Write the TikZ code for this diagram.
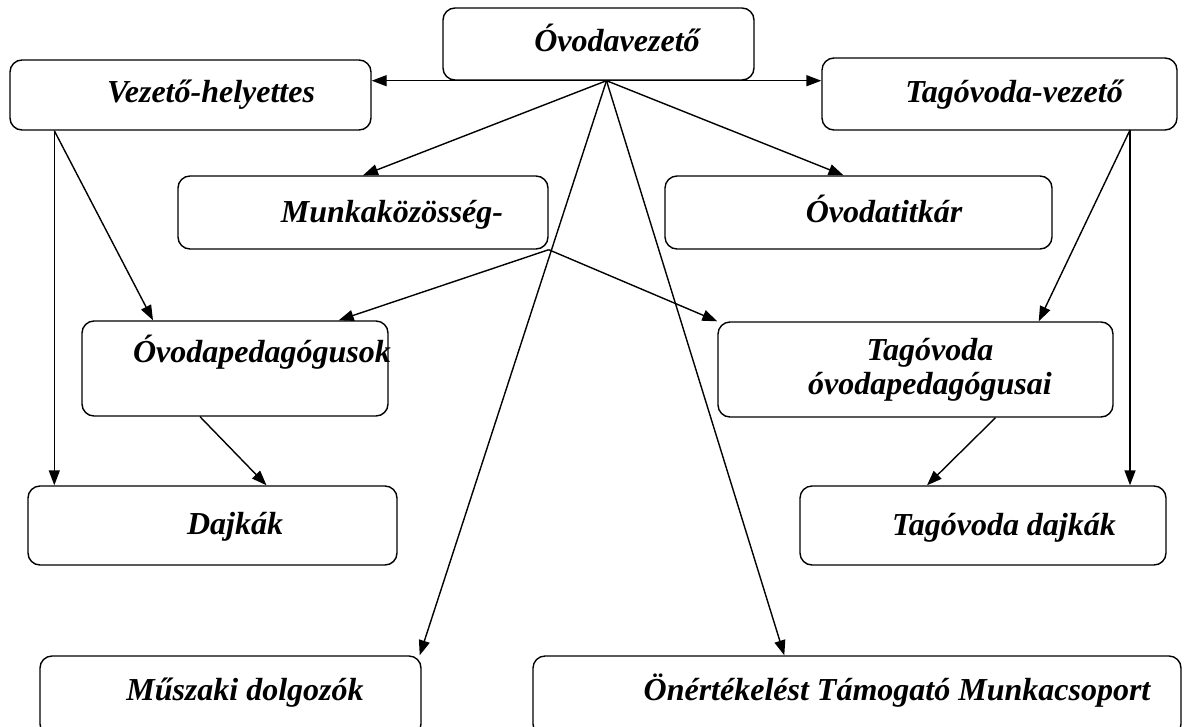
\documentclass[tikz,border=0pt]{standalone}
\usepackage{fontspec}
\setmainfont{Liberation Serif}
\usetikzlibrary{arrows.meta}
\tikzset{
	org box/.style={
		draw,
		rounded corners=12pt,
		line width=1.4pt,
		inner sep=0pt
	},
	org text/.style={
		anchor=base,
		inner sep=0pt,
		font=\fontsize{32}{34}\selectfont\bfseries\itshape
	},
}

\begin{document}
\begin{tikzpicture}[x=1pt, y=-1pt, line width=1.4pt, >={Triangle[length=15pt,width=11pt]}]

\useasboundingbox (0,0) rectangle (1188,726);

% boxes
\foreach \n/\x/\y/\w/\h in {ov/598.5/44/311/72, vh/190.5/95/361/70, tv/999.5/94/355/72,
	mk/363/212.5/370/73, tit/858.5/212.5/387/73,
	op/235/368.5/306/95, tov/915.5/369.5/395/95,
	dj/212.5/525.5/369/79, tdj/983/525.5/366/79,
	msz/230.5/696/381/80, ont/857/696/648/80}
	\node [org box, minimum width=\w pt, minimum height=\h pt] (\n) at (\x,\y) {};

% texts
\foreach \n/\x/\y/\t in {ov/617/51/Óvodavezető, vh/211/102/Vezető-helyettes,
	tv/1014/102/Tagóvoda-vezető, mk/392/222/Munkaközösség-, tit/884/222/Óvodatitkár,
	op/262/362/Óvodapedagógusok, tdj/1004/535/Tagóvoda dajkák, dj/235/534/Dajkák,
	msz/245/700/Műszaki dolgozók, ont/897/700/Önértékelést Támogató Munkacsoport}
	\node [org text] (\n-t) at (\x,\y) {\t};

\node [org text, align=center, anchor=north] (tov-t) at (930,338) {Tagóvoda\\óvodapedagógusai};

% hubs
\coordinate (ov-hub) at ([xshift=8pt]ov.south);
\coordinate (mk-hub) at (mk.south east);
\coordinate (vh-hub) at ([xshift=45pt]vh.south west);
\coordinate (tv-hub) at (1130,130);

\draw [->] (ov.south) -- (ov.south -| vh.east);
\draw [->] (ov.south) -- (ov.south -| tv.west);

\draw [->] (ov-hub) -- (mk.north);
\draw [->] (ov-hub) -- ([xshift=-15pt]tit.north);
\draw [->] (ov-hub) -- ([xshift=-2pt]msz.north east);
\draw [->] (ov-hub) -- ([xshift=252pt]ont.north west);

\draw [->] (mk-hub) -- ([xshift=-50pt]op.north east);
\draw [->] (mk-hub) -- (tov.north west);

\draw [->] (vh-hub) -- (vh-hub |- dj.north);
\draw [->] (vh-hub) -- ([xshift=-82pt]op.north);

\draw [->] (tv-hub) -- (tv-hub |- tdj.north);
\draw [->] (tv-hub) -- ([xshift=-75pt]tov.north east);

\draw [->] ([xshift=-35pt]op.south) -- ([xshift=54pt]dj.north);
\draw [->] ([xshift=80pt]tov.south) -- ([xshift=-56pt]tdj.north);

\end{tikzpicture}
\end{document}
